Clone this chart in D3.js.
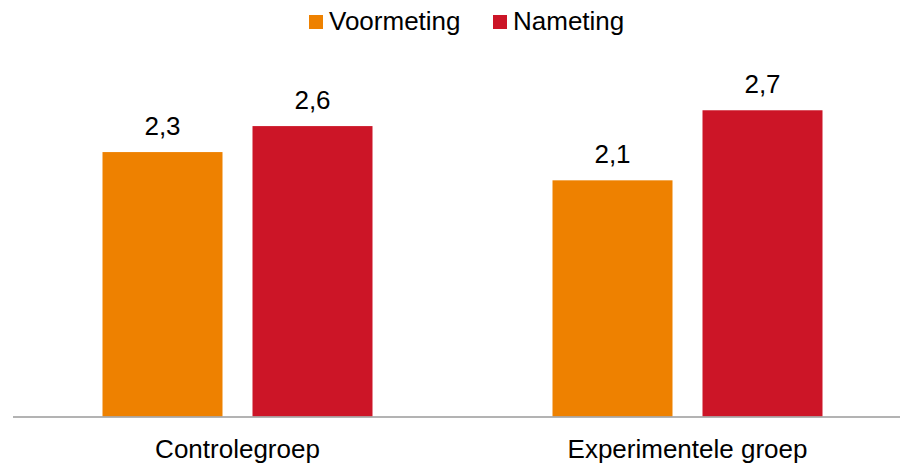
<!DOCTYPE html>
<html>
<head>
<meta charset="utf-8">
<script src="https://cdn.jsdelivr.net/npm/d3@7"></script>
<style>
  body { margin: 0; background: #fff; }
  svg { display: block; font-family: "Liberation Sans", Arial, sans-serif; }
</style>
</head>
<body>
<svg id="chart" width="900" height="465"></svg>
<script>
// data (bar heights, labels show one decimal)
var groups = ["Controlegroep", "Experimentele groep"];
var series = ["Voormeting", "Nameting"];
var voormeting = [2.34, 2.09];
var nameting = [2.57, 2.71];
var colors = ["#ee8100", "#cc1527"];

var rows = groups.map(function (g, i) {
	return { group: g, values: [voormeting[i], nameting[i]] };
});

var svg = d3.select("#chart");
var baseY = 416.5;

var x0 = d3.scaleBand().domain(groups).range([12.5, 912.5]).padding(0);
var x1 = d3.scaleBand().domain(series).range([90, 360]).paddingInner(0.2).paddingOuter(0);
var y = d3.scaleLinear().domain([0, 3.5]).range([baseY, 21]);
var color = d3.scaleOrdinal().domain(series).range(colors);

var grp = svg.selectAll(".grp")
	.data(rows)
	.enter().append("g")
	.attr("class", "grp")
	.attr("transform", function (d) { return "translate(" + x0(d.group) + ",0)"; });

var bars = grp.selectAll(".bar")
	.data(function (d) { return d.values.map(function (v, i) { return { key: series[i], value: v }; }); })
	.enter();

bars.append("rect")
	.attr("class", "bar")
	.attr("x", function (d) { return x1(d.key); })
	.attr("width", x1.bandwidth())
	.attr("y", function (d) { return y(d.value); })
	.attr("height", function (d) { return baseY - y(d.value); })
	.attr("fill", function (d) { return color(d.key); });

bars.append("text")
	.attr("x", function (d) { return x1(d.key) + x1.bandwidth() / 2; })
	.attr("y", function (d) { return y(d.value) - 17; })
	.attr("text-anchor", "middle")
	.attr("font-size", "26px")
	.attr("fill", "#000")
	.text(function (d) { return d.value.toFixed(1).replace(".", ","); });

// axis
var xAxis = svg.append("g")
	.attr("transform", "translate(0," + baseY + ")")
	.call(d3.axisBottom(x0).tickSize(0).tickSizeOuter(0));

xAxis.select(".domain")
	.attr("stroke", "#9a9a9a")
	.attr("stroke-width", 1.6);

xAxis.selectAll(".tick text")
	.attr("dy", null)
	.attr("y", 41)
	.attr("font-size", "26px")
	.attr("font-family", "Liberation Sans, Arial, sans-serif")
	.attr("fill", "#000");

// legend
var legendX = [309, 493];
var legend = svg.selectAll(".legend")
	.data(series)
	.enter().append("g")
	.attr("class", "legend")
	.attr("transform", function (d, i) { return "translate(" + legendX[i] + ",15)"; });

legend.append("rect")
	.attr("width", 14)
	.attr("height", 14)
	.attr("fill", function (d) { return color(d); });

legend.append("text")
	.attr("x", 20)
	.attr("y", 15)
	.attr("font-size", "26px")
	.attr("fill", "#000")
	.text(function (d) { return d; });
</script>
</body>
</html>
